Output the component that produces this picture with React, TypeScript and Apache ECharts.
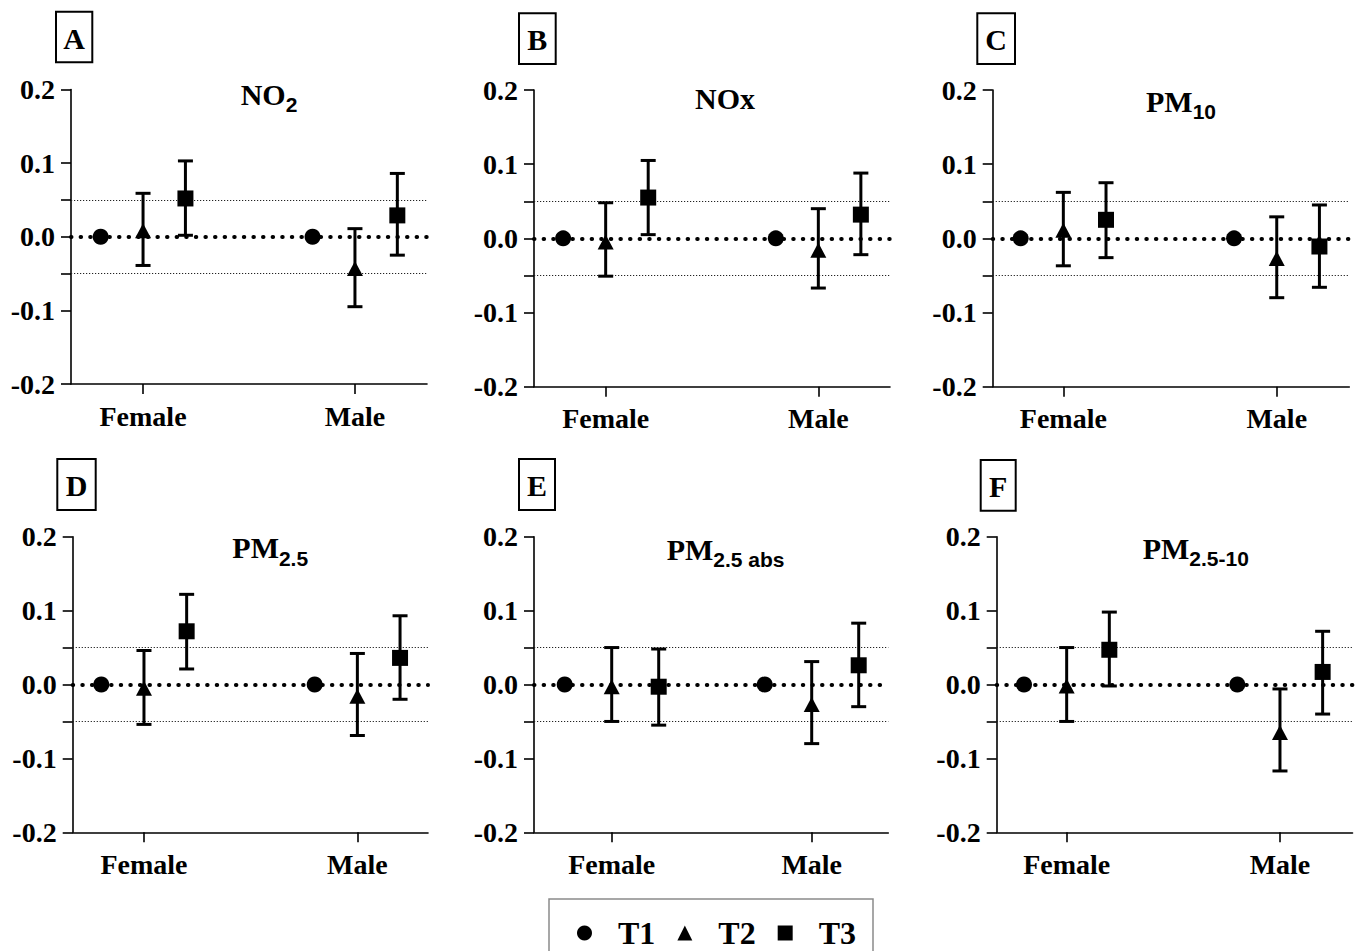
import React, { useEffect, useRef } from "react";
import * as echarts from "echarts";

// ---------- data ----------
const categories = ["Female", "Male"];
const groups = ["T1", "T2", "T3"];
const panelLetters = ["A", "B", "C", "D", "E", "F"];
const pollutantMain = ["NO", "NOx", "PM", "PM", "PM", "PM"];
const pollutantSub = ["2", "", "10", "2.5", "2.5 abs", "2.5-10"];

// [panel][category]
const t1Mean = [[0, 0], [0, 0], [0, 0], [0, 0], [0, 0], [0, 0]];
const t2Mean = [[0.008, -0.043], [-0.005, -0.016], [0.011, -0.027], [-0.005, -0.016], [-0.003, -0.027], [-0.002, -0.065]];
const t2Low = [[-0.039, -0.095], [-0.051, -0.067], [-0.037, -0.08], [-0.054, -0.069], [-0.05, -0.08], [-0.05, -0.117]];
const t2High = [[0.059, 0.011], [0.048, 0.04], [0.062, 0.029], [0.046, 0.042], [0.05, 0.031], [0.05, -0.006]];
const t3Mean = [[0.052, 0.029], [0.055, 0.032], [0.025, -0.011], [0.072, 0.036], [-0.003, 0.026], [0.047, 0.017]];
const t3Low = [[0.002, -0.025], [0.005, -0.022], [-0.026, -0.066], [0.021, -0.02], [-0.055, -0.03], [-0.002, -0.04]];
const t3High = [[0.103, 0.086], [0.105, 0.088], [0.075, 0.045], [0.122, 0.093], [0.048, 0.083], [0.098, 0.072]];

const yLabelTicks = [-0.2, -0.1, 0, 0.1, 0.2];
const yAllTicks = [-0.2, -0.1, -0.05, 0, 0.05, 0.1, 0.2];
const zeroLine = 0;
const boundLines = [0.05, -0.05];

// ---------- layout ----------
const layout = [
  { left: 71, top: 89.5, width: 356, height: 294.5, xMin: 0.66, xMax: 2.34, off: 0.2, tx: 240.7, ty: 79, box: [56, 11.7, 36.3, 50.6] },
  { left: 534, top: 90, width: 356, height: 296.7, xMin: 0.663, xMax: 2.337, off: 0.2, tx: 695, ty: 83, box: [519, 13.3, 36.7, 50.7] },
  { left: 992.7, top: 90, width: 356.6, height: 296.7, xMin: 0.669, xMax: 2.34, off: 0.2, tx: 1146, ty: 86, box: [977.3, 13.3, 37.7, 50.7] },
  { left: 72.7, top: 536.7, width: 355.3, height: 295.6, xMin: 0.666, xMax: 2.331, off: 0.2, tx: 232.3, ty: 532.7, box: [57.3, 459, 38.4, 51] },
  { left: 534, top: 536.7, width: 354.3, height: 295.6, xMin: 0.6115, xMax: 2.383, off: 0.235, tx: 666.7, ty: 534, box: [519, 459, 36, 51] },
  { left: 996.7, top: 536.7, width: 355.8, height: 295.6, xMin: 0.672, xMax: 2.34, off: 0.2, tx: 1142.7, ty: 533, box: [980.7, 460, 35, 50.7] },
];

const SERIF = "'Liberation Serif', 'Times New Roman', serif";
const SANS = "'Liberation Sans', Arial, sans-serif";

function buildOption() {
  const grid: any[] = [];
  const xAxis: any[] = [];
  const yAxis: any[] = [];
  const series: any[] = [];
  const title: any[] = [];
  const graphic: any[] = [];

  layout.forEach((L, p) => {
    grid.push({ left: L.left, top: L.top, width: L.width, height: L.height, containLabel: false });
    xAxis.push({
      type: "value",
      gridIndex: p,
      min: L.xMin,
      max: L.xMax,
      splitLine: { show: false },
      axisLine: { onZero: false, lineStyle: { color: "#000", width: 1.6 } },
      axisTick: { customValues: [1, 2], length: 10, lineStyle: { color: "#000", width: 1.6 } },
      axisLabel: {
        customValues: [1, 2],
        formatter: (v: number) => categories[Math.round(v) - 1] || "",
        margin: 18,
        color: "#000",
        fontFamily: SERIF,
        fontWeight: "bold",
        fontSize: 28,
      },
    });
    yAxis.push({
      type: "value",
      gridIndex: p,
      min: -0.2,
      max: 0.2,
      interval: 0.1,
      splitLine: { show: false },
      axisLine: { onZero: false, lineStyle: { color: "#000", width: 1.6 } },
      axisTick: { customValues: yAllTicks, length: 10, lineStyle: { color: "#000", width: 1.6 } },
      axisLabel: {
        customValues: yLabelTicks,
        formatter: (v: number) => v.toFixed(1),
        margin: 16,
        color: "#000",
        fontFamily: SERIF,
        fontWeight: "bold",
        fontSize: 28,
      },
    });

    const xs = categories.map((_, c) => c + 1);
    const t1Data = xs.map((x, c) => [x - L.off, t1Mean[p][c]]);
    const t2Data = xs.map((x, c) => [x, t2Mean[p][c]]);
    const t3Data = xs.map((x, c) => [x + L.off, t3Mean[p][c]]);
    const errData: number[][] = [];
    xs.forEach((x, c) => {
      errData.push([x, t2Low[p][c], t2High[p][c]]);
      errData.push([x + L.off, t3Low[p][c], t3High[p][c]]);
    });

    series.push({
      type: "custom",
      name: "err" + p,
      xAxisIndex: p,
      yAxisIndex: p,
      z: 2,
      silent: true,
      encode: { x: 0, y: [1, 2] },
      data: errData,
      renderItem: (params: any, api: any) => {
        const x = api.value(0);
        const lo = api.value(1);
        const hi = api.value(2);
        const pt = api.coord([x, hi]);
        const pb = api.coord([x, lo]);
        const hw = 7.5;
        const st = { stroke: "#000", lineWidth: 3 };
        return {
          type: "group",
          children: [
            { type: "line", shape: { x1: pt[0], y1: pt[1], x2: pb[0], y2: pb[1] }, style: st },
            { type: "line", shape: { x1: pt[0] - hw, y1: pt[1], x2: pt[0] + hw, y2: pt[1] }, style: st },
            { type: "line", shape: { x1: pb[0] - hw, y1: pb[1], x2: pb[0] + hw, y2: pb[1] }, style: st },
          ],
        };
      },
    });

    const mk = { color: "#000", opacity: 1 };
    series.push({
      type: "scatter",
      name: groups[0],
      xAxisIndex: p,
      yAxisIndex: p,
      symbol: "circle",
      symbolSize: 16,
      itemStyle: mk,
      z: 3,
      data: t1Data,
      markLine: {
        silent: true,
        symbol: "none",
        z: 1,
        label: { show: false },
        data: [
          { yAxis: zeroLine, lineStyle: { type: [0.5, 9.1], width: 4, cap: "round", color: "#000" } },
          ...boundLines.map((v) => ({ yAxis: v, lineStyle: { type: [1.2, 1.8], width: 1.1, color: "#222" } })),
        ],
      },
    });
    series.push({
      type: "scatter",
      name: groups[1],
      xAxisIndex: p,
      yAxisIndex: p,
      symbol: "triangle",
      symbolSize: [16, 15],
      itemStyle: mk,
      z: 3,
      data: t2Data,
    });
    series.push({
      type: "scatter",
      name: groups[2],
      xAxisIndex: p,
      yAxisIndex: p,
      symbol: "rect",
      symbolSize: 16,
      itemStyle: mk,
      z: 3,
      data: t3Data,
    });

    const sub = pollutantSub[p];
    title.push({
      text: sub ? `{m|${pollutantMain[p]}}{s|${sub}}` : `{m|${pollutantMain[p]}}`,
      left: L.tx,
      top: L.ty,
      padding: 0,
      textStyle: {
        rich: {
          m: { fontFamily: SERIF, fontWeight: "bold", fontSize: 30, lineHeight: 32, color: "#000", verticalAlign: "top" },
          s: { fontFamily: SANS, fontWeight: "bold", fontSize: 21, lineHeight: 21, color: "#000", verticalAlign: "top", padding: [15, 0, 0, 0] },
        },
      },
    });

    const [bx, by, bw, bh] = L.box;
    graphic.push({
      type: "group",
      children: [
        { type: "rect", shape: { x: bx, y: by, width: bw, height: bh }, style: { fill: "#fff", stroke: "#000", lineWidth: 2 } },
        {
          type: "text",
          x: bx + bw / 2,
          y: by + bh / 2 + 1,
          style: { text: panelLetters[p], fill: "#000", font: `bold 30px ${SERIF}`, textAlign: "center", textVerticalAlign: "middle" },
        },
      ],
    });
  });

  graphic.push({
    type: "rect",
    shape: { x: 549, y: 899, width: 324, height: 70 },
    style: { fill: "none", stroke: "#8a8a8a", lineWidth: 1.5 },
    z: -1,
  });

  return {
    animation: false,
    backgroundColor: "#fff",
    grid,
    xAxis,
    yAxis,
    series,
    title,
    graphic,
    legend: {
      data: [
        { name: groups[0], icon: "circle" },
        { name: groups[1], icon: "triangle" },
        { name: groups[2], icon: "rect" },
      ],
      left: 577,
      top: 917,
      padding: 0,
      itemWidth: 15,
      itemHeight: 15,
      itemGap: 22,
      selectedMode: false,
      itemStyle: { opacity: 1 },
      textStyle: { fontFamily: SERIF, fontWeight: "bold", fontSize: 32, color: "#000", padding: [0, 0, 0, 21] },
    },
  };
}

export default function App() {
  const ref = useRef<HTMLDivElement>(null);
  useEffect(() => {
    if (!ref.current) return;
    const chart = echarts.init(ref.current, undefined, { renderer: "svg" });
    chart.setOption(buildOption() as any);
    return () => chart.dispose();
  }, []);
  return <div ref={ref} style={{ position: "absolute", left: 0, top: 0, width: 1355, height: 951 }} />;
}
